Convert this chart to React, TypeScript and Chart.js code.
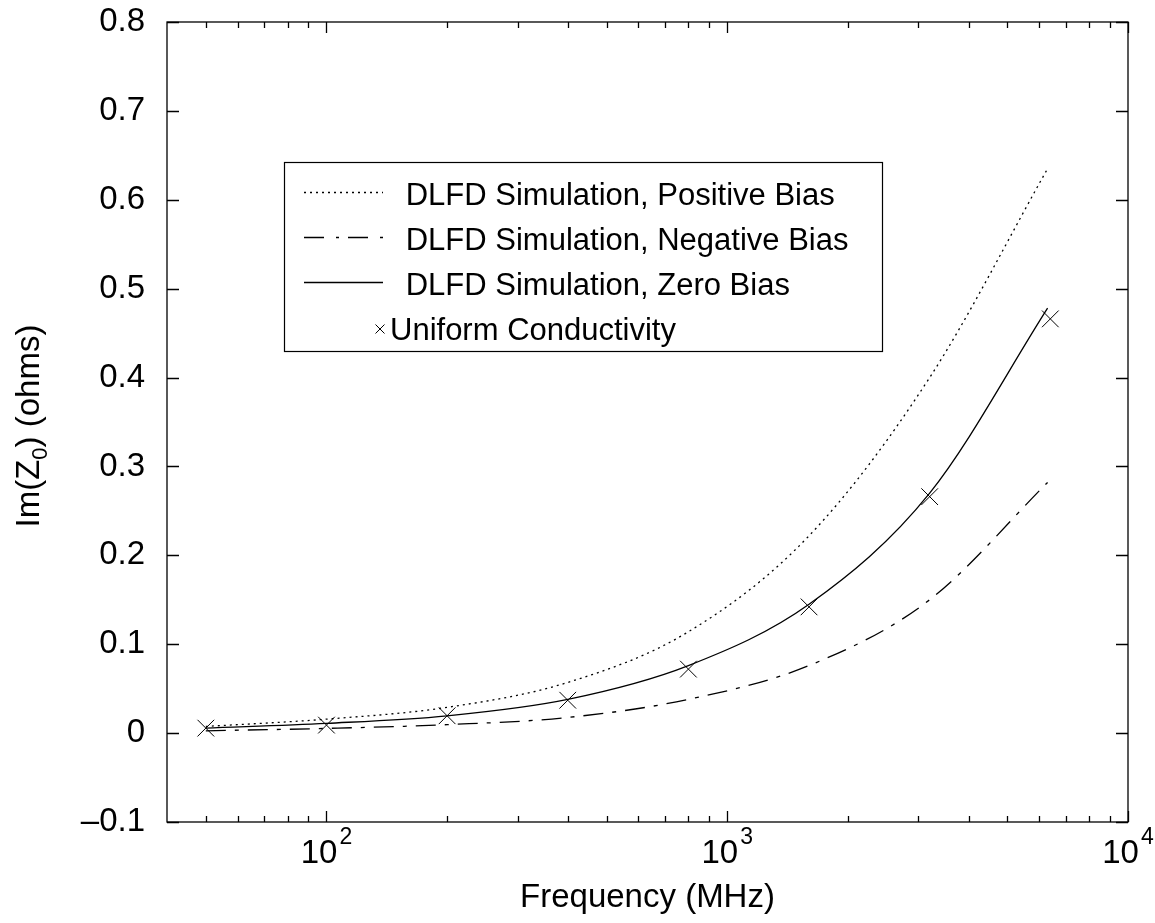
import React, { useEffect, useRef } from 'react';
import { Chart, registerables } from 'chart.js';

Chart.register(...registerables);

// ---- data ----
const curveFreqs = [50, 100, 200, 400, 800, 1600, 3200, 6300];
const positiveBias = [0.0075, 0.0157, 0.029, 0.057, 0.114, 0.222, 0.4, 0.635];
const negativeBias = [0.0026, 0.0053, 0.0095, 0.0176, 0.038, 0.076, 0.15, 0.282];
const zeroBias = [0.0056, 0.011, 0.0195, 0.038, 0.076, 0.145, 0.27, 0.478];
const markerFreqs = [50, 100, 200, 400, 800, 1600, 3200, 6400];
const uniformConductivity = [0.0056, 0.009, 0.0195, 0.037, 0.072, 0.142, 0.266, 0.466];

const seriesLabels = [
  'DLFD Simulation, Positive Bias',
  'DLFD Simulation, Negative Bias',
  'DLFD Simulation, Zero Bias',
  'Uniform Conductivity',
];
const yTicks = [-0.1, 0, 0.1, 0.2, 0.3, 0.4, 0.5, 0.6, 0.7, 0.8];
const xMajorTicks = [100, 1000, 10000];
const xMinorTicks = [50, 60, 70, 80, 90, 200, 300, 400, 500, 600, 700, 800, 900, 2000, 3000, 4000, 5000, 6000, 7000, 8000, 9000];
const xTitle = 'Frequency (MHz)';
const yTitleParts = ['Im(Z', '0', ') (ohms)'];

const FONT = '"Liberation Sans", Arial, Helvetica, sans-serif';

const toXY = (xs: number[], ys: number[]) => xs.map((x, i) => ({ x, y: ys[i] }));

const decorPlugin = {
  id: 'decor',
  afterDraw(chart: any) {
    const { ctx, chartArea: a, scales } = chart;
    const x = scales.x;
    const y = scales.y;
    ctx.save();
    // frame
    ctx.strokeStyle = '#000';
    ctx.lineWidth = 1.3;
    ctx.setLineDash([]);
    ctx.strokeRect(a.left, a.top, a.right - a.left, a.bottom - a.top);
    // y ticks (inward, both sides)
    ctx.beginPath();
    for (const v of yTicks) {
      const py = Math.round(y.getPixelForValue(v)) + 0.5;
      ctx.moveTo(a.left, py); ctx.lineTo(a.left + 12, py);
      ctx.moveTo(a.right, py); ctx.lineTo(a.right - 12, py);
    }
    // x ticks
    for (const v of xMajorTicks) {
      const px = Math.round(x.getPixelForValue(v)) + 0.5;
      ctx.moveTo(px, a.bottom); ctx.lineTo(px, a.bottom - 11);
      ctx.moveTo(px, a.top); ctx.lineTo(px, a.top + 11);
    }
    for (const v of xMinorTicks) {
      const px = Math.round(x.getPixelForValue(v)) + 0.5;
      ctx.moveTo(px, a.bottom); ctx.lineTo(px, a.bottom - 6);
      ctx.moveTo(px, a.top); ctx.lineTo(px, a.top + 6);
    }
    ctx.stroke();

    // x tick labels 10^n
    ctx.fillStyle = '#000';
    ctx.textBaseline = 'alphabetic';
    ctx.textAlign = 'left';
    for (const v of xMajorTicks) {
      const px = x.getPixelForValue(v);
      const exp = String(Math.round(Math.log10(v)));
      ctx.font = `33px ${FONT}`;
      const wb = ctx.measureText('10').width;
      ctx.font = `23px ${FONT}`;
      const we = ctx.measureText(exp).width;
      const gap = 2;
      const start = px - (wb + gap + we) / 2;
      ctx.font = `33px ${FONT}`;
      ctx.fillText('10', start, a.bottom + 41);
      ctx.font = `23px ${FONT}`;
      ctx.fillText(exp, start + wb + gap, a.bottom + 22);
    }

    // y title with subscript
    ctx.save();
    ctx.font = `33px ${FONT}`;
    const w0 = ctx.measureText(yTitleParts[0]).width;
    const w2 = ctx.measureText(yTitleParts[2]).width;
    ctx.font = `22px ${FONT}`;
    const w1 = ctx.measureText(yTitleParts[1]).width;
    const total = w0 + w1 + w2;
    ctx.translate(39, (a.top + a.bottom) / 2 + 4);
    ctx.rotate(-Math.PI / 2);
    let cx = -total / 2;
    ctx.font = `33px ${FONT}`;
    ctx.fillText(yTitleParts[0], cx, 0);
    cx += w0;
    ctx.font = `22px ${FONT}`;
    ctx.fillText(yTitleParts[1], cx, 8);
    cx += w1;
    ctx.font = `33px ${FONT}`;
    ctx.fillText(yTitleParts[2], cx, 0);
    ctx.restore();

    // legend box
    const box = { left: 284.5, top: 162.5, right: 882.5, bottom: 351.5 };
    ctx.lineWidth = 1.2;
    ctx.strokeStyle = '#000';
    ctx.strokeRect(box.left, box.top, box.right - box.left, box.bottom - box.top);
    const rowBase = [205, 250, 295, 340];
    chart.data.datasets.forEach((ds: any, i: number) => {
      const base = rowBase[i];
      const ly = base - 12.5;
      ctx.font = `31px ${FONT}`;
      ctx.fillStyle = '#000';
      if (ds.showLine) {
        ctx.save();
        ctx.strokeStyle = ds.borderColor;
        ctx.lineWidth = ds.borderWidth;
        ctx.setLineDash(ds.legendDash || ds.borderDash || []);
        ctx.beginPath();
        ctx.moveTo(304, ly);
        ctx.lineTo(383, ly);
        ctx.stroke();
        ctx.restore();
        ctx.fillText(ds.label, 405.7, base);
      } else {
        ctx.save();
        ctx.strokeStyle = ds.borderColor;
        ctx.lineWidth = 1;
        ctx.setLineDash([]);
        const cxm = 380, cym = base - 11, h = 4.5;
        ctx.beginPath();
        ctx.moveTo(cxm - h, cym - h); ctx.lineTo(cxm + h, cym + h);
        ctx.moveTo(cxm + h, cym - h); ctx.lineTo(cxm - h, cym + h);
        ctx.stroke();
        ctx.restore();
        ctx.fillText(ds.label, 390, base);
      }
    });
    ctx.restore();
  },
};

export default function App() {
  const canvasRef = useRef<HTMLCanvasElement | null>(null);

  useEffect(() => {
    const canvas = canvasRef.current;
    if (!canvas) return;
    const lineBase = {
      showLine: true,
      pointRadius: 0,
      pointHoverRadius: 0,
      borderColor: '#000',
      borderWidth: 1.3,
      fill: false,
      cubicInterpolationMode: 'monotone',
    };
    const chart = new Chart(canvas, {
      type: 'scatter',
      data: {
        datasets: [
          { ...lineBase, label: seriesLabels[0], data: toXY(curveFreqs, positiveBias), borderDash: [2, 4] },
          { ...lineBase, label: seriesLabels[1], data: toXY(curveFreqs, negativeBias), borderDash: [20, 9, 4, 9], legendDash: [20, 12, 3, 9] },
          { ...lineBase, label: seriesLabels[2], data: toXY(curveFreqs, zeroBias), borderDash: [] },
          {
            label: seriesLabels[3],
            data: toXY(markerFreqs, uniformConductivity),
            showLine: false,
            pointStyle: 'crossRot',
            pointRadius: 11.8,
            pointHoverRadius: 11.8,
            borderColor: '#000',
            backgroundColor: '#000',
            borderWidth: 1,
          },
        ] as any,
      },
      options: {
        responsive: false,
        animation: false,
        devicePixelRatio: 1,
        layout: { padding: { top: 22, right: 27, left: 0, bottom: 0 } },
        plugins: {
          legend: { display: false },
          tooltip: { enabled: false },
        },
        scales: {
          x: {
            type: 'logarithmic',
            min: 40,
            max: 10000,
            grid: { display: false, drawTicks: false },
            border: { display: false },
            ticks: { display: false },
            title: {
              display: true,
              text: xTitle,
              color: '#000',
              font: { family: FONT, size: 33 },
              padding: { top: 0, bottom: 5 },
            },
            afterFit: (s: any) => { s.height = 101; s.paddingLeft = 0; s.paddingRight = 0; },
          },
          y: {
            type: 'linear',
            min: -0.1,
            max: 0.8,
            grid: { display: false, drawTicks: false },
            border: { display: false },
            afterBuildTicks: (s: any) => { s.ticks = yTicks.map((v) => ({ value: v })); },
            ticks: {
              color: '#000',
              padding: 22,
              font: { family: FONT, size: 33 },
              callback: (v: any) => {
                const n = Number(v);
                if (Math.abs(n) < 1e-9) return '0';
                return n < 0 ? '\u2013' + Math.abs(n).toFixed(1) : n.toFixed(1);
              },
            },
            afterFit: (s: any) => { s.width = 167; s.paddingTop = 0; s.paddingBottom = 0; },
          },
        },
      } as any,
      plugins: [decorPlugin],
    });
    return () => chart.destroy();
  }, []);

  return (
    <div style={{ position: 'absolute', left: 0, top: 0, width: 1155, height: 923, background: '#fff' }}>
      <canvas ref={canvasRef} width={1155} height={923} style={{ width: 1155, height: 923, display: 'block' }} />
    </div>
  );
}
